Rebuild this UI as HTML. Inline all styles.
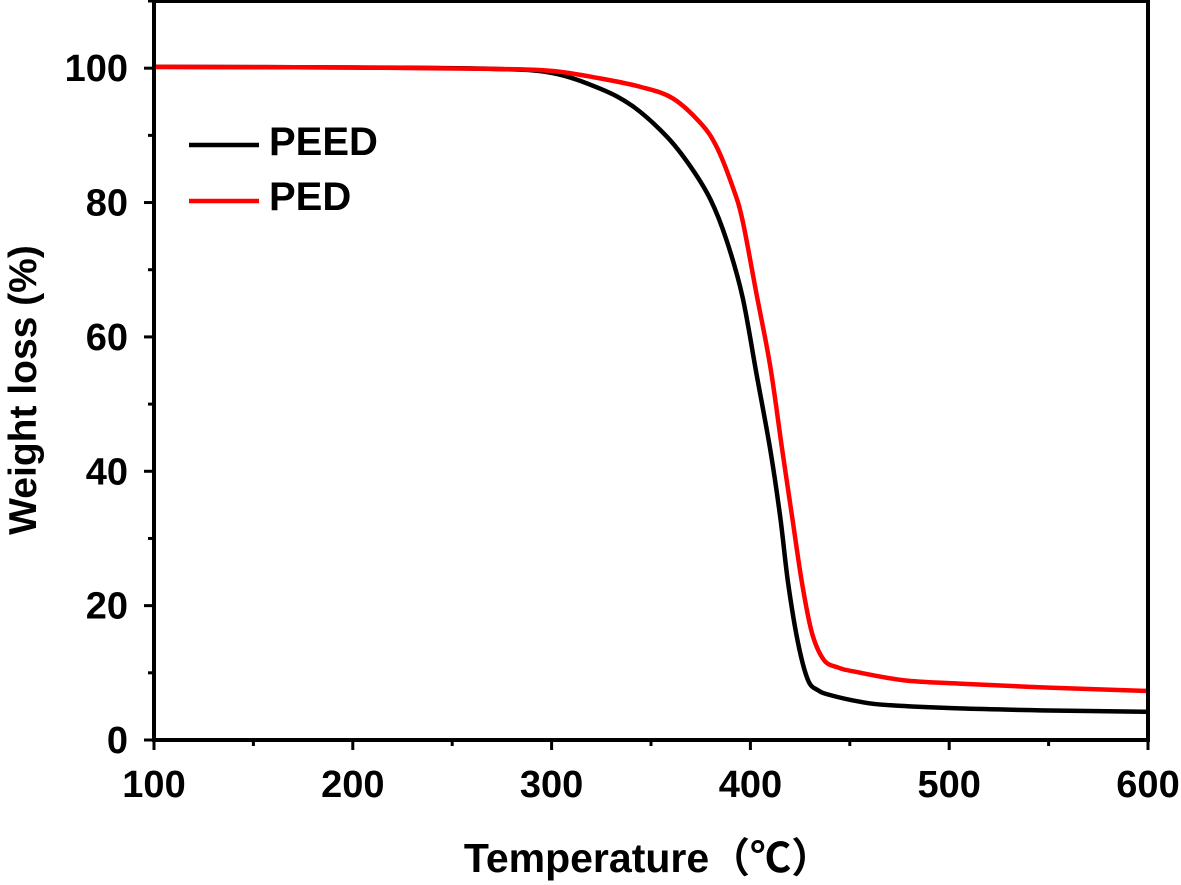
<!DOCTYPE html>
<html><head><meta charset="utf-8"><style>
body{margin:0;background:#fff}
svg{display:block;font-family:"Liberation Sans","Noto Sans CJK SC",sans-serif;font-weight:bold}
</style></head><body>
<svg id="chart" width="1181" height="885" viewBox="0 0 1181 885"></svg>
<script>
const xTicks=[100,200,300,400,500,600];
const yTicks=[0,20,40,60,80,100];
const peedT=[100,200,270,300,324,341,358,370,380,388,396,403,410,415,419,424,429,434,440,455,469,505,550,600];
const peedW=[100.2,100.1,99.9,99.3,97.0,94.3,89.8,85.3,80.4,74.4,66.0,54.6,43.2,33.2,23.3,14.4,8.9,7.4,6.7,5.7,5.2,4.7,4.4,4.2];
const pedT=[100,200,270,300,324,345,361,375,383,391,396,403,410,416,421,426,431,437,444,452,477,505,550,600];
const pedW=[100.2,100.1,99.9,99.6,98.5,97.2,95.5,91.8,88.3,82.4,77.4,66.5,55.6,43.2,33.2,23.3,15.9,11.9,10.8,10.2,8.9,8.4,7.8,7.3];
const X0=154,X1=1148,Y0=740,Y1=1;
const xs=v=>X0+(v-100)/(600-100)*(X1-X0);
const ys=v=>Y0-(v-0)/110*(Y0-Y1);
const svg=document.getElementById('chart');
const NS='http://www.w3.org/2000/svg';
function mk(t,a,p){const e=document.createElementNS(NS,t);for(const k in a)e.setAttribute(k,a[k]);(p||svg).appendChild(e);return e;}
function path(T,W){const P=T.map((t,i)=>[xs(t),ys(W[i])]);let d='M'+P[0][0]+','+P[0][1];
for(let i=0;i<P.length-1;i++){const p0=P[i-1]||P[i],p1=P[i],p2=P[i+1],p3=P[i+2]||p2;
d+=' C'+(p1[0]+(p2[0]-p0[0])/6)+','+(p1[1]+(p2[1]-p0[1])/6)+' '+(p2[0]-(p3[0]-p1[0])/6)+','+(p2[1]-(p3[1]-p1[1])/6)+' '+p2[0]+','+p2[1];}return d;}
let e;
e=mk('path',{d:path(peedT,peedW),fill:'none',stroke:'#000','stroke-width':4.5});


e=mk('path',{d:path(pedT,pedW),fill:'none',stroke:'#f00','stroke-width':4.5});


e=mk('rect',{x:X0,y:Y1,width:X1-X0,height:Y0-Y1,fill:'none',stroke:'#000','stroke-width':4});


xTicks.forEach((v,i)=>{
  e=mk('line',{x1:xs(v),x2:xs(v),y1:Y0,y2:Y0+10,stroke:'#000','stroke-width':3});
  
  
  if(i<xTicks.length-1){e=mk('line',{x1:xs(v+50),x2:xs(v+50),y1:Y0,y2:Y0+6,stroke:'#000','stroke-width':3});
  
  }
  e=mk('text',{x:xs(v),y:797,'text-anchor':'middle','font-size':38});e.textContent=v;
  
  
});
yTicks.forEach((v,i)=>{
  e=mk('line',{x1:X0-10,x2:X0,y1:ys(v),y2:ys(v),stroke:'#000','stroke-width':3});
  
  
  e=mk('line',{x1:X0-6,x2:X0,y1:ys(v+10),y2:ys(v+10),stroke:'#000','stroke-width':3});
  
  
  e=mk('text',{x:128,y:ys(v)+13,'text-anchor':'end','font-size':38});e.textContent=v;
  
  
});
e=mk('text',{x:36,y:390,'text-anchor':'middle','font-size':39,transform:'rotate(-90 36 390)'});e.textContent='Weight loss (%)';


e=mk('text',{x:648,y:872,'text-anchor':'middle','font-size':41});e.textContent='Temperature（℃）';


e=mk('line',{x1:189,x2:259,y1:145,y2:145,stroke:'#000','stroke-width':4.5});


e=mk('text',{x:269,y:155,'font-size':40});e.textContent='PEED';


e=mk('line',{x1:189,x2:259,y1:201,y2:201,stroke:'#f00','stroke-width':4.5});


e=mk('text',{x:269,y:210,'font-size':40});e.textContent='PED';


</script>
</body></html>
